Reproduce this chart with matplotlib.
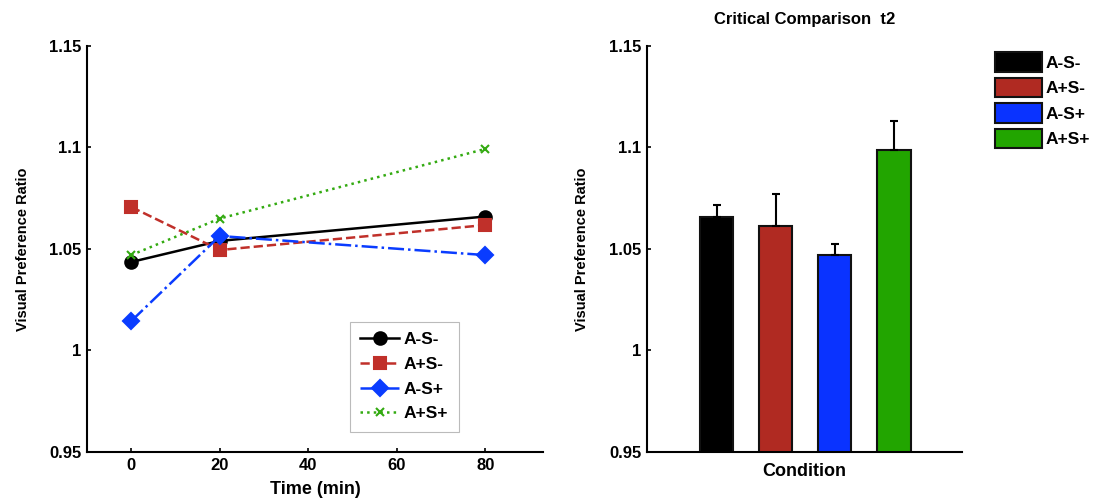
import matplotlib
matplotlib.use("Agg")
import matplotlib.pyplot as plt

plt.rcParams['font.family'] = ['Liberation Sans', 'DejaVu Sans']
plt.rcParams['font.weight'] = 'bold'

# data
time_min = [0, 20, 80]
groups = ["A-S-", "A+S-", "A-S+", "A+S+"]
line_vals = {
    "A-S-": [1.0436, 1.054, 1.066],
    "A+S-": [1.0707, 1.0495, 1.0618],
    "A-S+": [1.0145, 1.0564, 1.047],
    "A+S+": [1.047, 1.065, 1.0993],
}
bar_means = [1.0658, 1.0613, 1.047, 1.0988]
bar_err = [0.0059, 0.0158, 0.0055, 0.0142]

yticks = [0.95, 1.0, 1.05, 1.1, 1.15]
ytick_labels = ["0.95", "1", "1.05", "1.1", "1.15"]

line_colors = ["black", "#C0302A", "#0A3CFF", "#33AA11"]
bar_colors = ["black", "#B02A22", "#0A33FF", "#22A500"]
styles = ["-", "--", "-.", ":"]
markers = ["o", "s", "D", "x"]
msizes = [9, 8, 8, 6]

fig = plt.figure(figsize=(10.98, 5.01), dpi=100)
ax1 = fig.add_axes([0.0792, 0.0978, 0.4153, 0.8104])
ax2 = fig.add_axes([0.589, 0.0978, 0.287, 0.8104])

# left: time course
for g, c, ls, mk, ms in zip(groups, line_colors, styles, markers, msizes):
    ax1.plot(time_min, line_vals[g], color=c, linestyle=ls, marker=mk,
             markersize=ms, linewidth=1.8, markeredgewidth=1.5, label=g)
ax1.set_xlim(-10, 93)
ax1.set_xticks([0, 20, 40, 60, 80])
ax1.set_xlabel("Time (min)", fontsize=13, fontweight='bold', labelpad=6)
leg = ax1.legend(loc='lower left', bbox_to_anchor=(0.577, 0.05), fontsize=12.5,
                 fancybox=False, framealpha=1, edgecolor='#bbbbbb',
                 handlelength=2.2, handletextpad=0.3, borderpad=0.6,
                 labelspacing=0.55, borderaxespad=0)
leg.get_frame().set_linewidth(0.8)

# right: bar comparison
xpos = [1, 2, 3, 4]
bars = ax2.bar(xpos, bar_means, width=0.56, color=bar_colors, edgecolor='#111111',
               linewidth=1.5, bottom=0)
ax2.errorbar(xpos, bar_means, yerr=[[0] * 4, bar_err], fmt='none', ecolor='black',
             elinewidth=1.5, capsize=3, capthick=1.5)
ax2.set_xlim(-0.19, 5.15)
ax2.set_xticks([])
ax2.set_xlabel("Condition", fontsize=13, fontweight='bold', labelpad=8)
ax2.set_title("Critical Comparison  t2", fontsize=12, fontweight='bold', pad=16)
ax2.legend(bars, groups, loc='upper left', bbox_to_anchor=(1.105, 0.985), fontsize=12.5,
           frameon=False, handlelength=2.7, handleheight=1.35, handletextpad=0.2,
           labelspacing=0.35, borderpad=0, borderaxespad=0)

for ax in (ax1, ax2):
    ax.set_ylim(0.95, 1.15)
    ax.set_yticks(yticks)
    ax.set_yticklabels(ytick_labels)
    ax.set_ylabel("Visual Preference Ratio", fontsize=10.5, fontweight='bold', labelpad=14)
    ax.spines['top'].set_visible(False)
    ax.spines['right'].set_visible(False)
    ax.spines['left'].set_linewidth(1.5)
    ax.spines['bottom'].set_linewidth(1.5)
    ax.tick_params(direction='in', length=3, width=1.2, labelsize=12, pad=4)
    for lbl in ax.get_xticklabels() + ax.get_yticklabels():
        lbl.set_fontweight('bold')

fig.savefig("out.png", dpi=100)
